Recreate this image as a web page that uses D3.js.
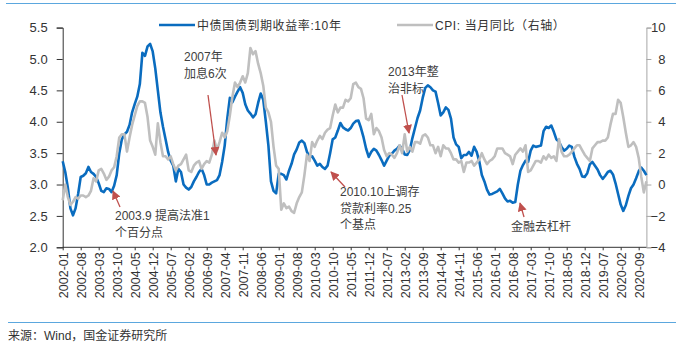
<!DOCTYPE html>
<html>
<head>
<meta charset="utf-8">
<script src="https://cdn.jsdelivr.net/npm/d3@7"></script>
<style>
  body { margin: 0; background: #fff; }
  svg { display: block; font-family: "Liberation Sans", Arial, "Noto Sans CJK SC", sans-serif; }
</style>
</head>
<body>
<svg id="chart" width="682" height="351"></svg>
<script>
// 10年期国债收益率 vs CPI (月度, 2002-01 ~ 2020-12)
var START = '2002-01';
var TICK_EVERY = 7;

// 中债国债到期收益率:10年 (%)
var yield10y = [
  3.37, 3.20, 2.95, 2.62, 2.51, 2.62, 2.85, 3.12, 3.14, 3.18, 3.28, 3.20, // 2002
  3.17, 3.12, 3.02, 2.90, 2.88, 2.94, 2.93, 2.88, 2.98, 3.15, 3.50, 3.72, // 2003
  3.80, 3.84, 3.95, 4.15, 4.28, 4.40, 4.60, 5.10, 5.05, 5.20, 5.24, 5.12, // 2004
  4.85, 4.50, 4.15, 3.92, 3.72, 3.52, 3.38, 3.30, 3.05, 3.25, 3.20, 3.00, // 2005
  2.95, 2.92, 2.96, 3.05, 3.12, 3.20, 3.25, 3.15, 3.00, 3.00, 3.03, 3.05, // 2006
  3.07, 3.15, 3.36, 3.62, 4.05, 4.38, 4.31, 4.40, 4.48, 4.55, 4.46, 4.28, // 2007
  4.18, 4.13, 4.07, 4.12, 4.30, 4.45, 4.35, 4.00, 3.62, 3.05, 2.90, 2.86, // 2008
  3.17, 3.17, 3.15, 3.08, 3.22, 3.33, 3.48, 3.56, 3.67, 3.70, 3.66, 3.52, // 2009
  3.44, 3.45, 3.38, 3.30, 3.33, 3.28, 3.25, 3.30, 3.50, 3.72, 3.75, 3.86, // 2010
  3.98, 3.91, 3.88, 3.86, 3.90, 3.97, 4.01, 4.02, 3.90, 3.75, 3.57, 3.44, // 2011
  3.52, 3.57, 3.54, 3.47, 3.39, 3.30, 3.38, 3.46, 3.49, 3.54, 3.57, 3.62, // 2012
  3.57, 3.48, 3.47, 3.55, 3.74, 3.90, 4.06, 4.18, 4.38, 4.54, 4.58, 4.55, // 2013
  4.50, 4.48, 4.30, 4.10, 4.15, 4.23, 4.19, 4.05, 3.75, 3.64, 3.60, 3.42, // 2014
  3.47, 3.47, 3.52, 3.46, 3.60, 3.52, 3.37, 3.15, 3.05, 2.92, 2.84, 2.85, // 2015
  2.87, 2.89, 2.93, 2.86, 2.78, 2.73, 2.74, 2.71, 2.72, 3.00, 3.22, 3.31, // 2016
  3.38, 3.36, 3.54, 3.62, 3.60, 3.61, 3.62, 3.85, 3.92, 3.90, 3.94, 3.84, // 2017
  3.72, 3.68, 3.60, 3.54, 3.57, 3.62, 3.60, 3.44, 3.33, 3.25, 3.13, 3.12, // 2018
  3.18, 3.32, 3.36, 3.30, 3.24, 3.15, 3.09, 3.14, 3.20, 3.22, 3.16, 3.02, // 2019
  2.85, 2.68, 2.58, 2.67, 2.82, 2.94, 3.00, 3.10, 3.21, 3.27, 3.22, 3.15  // 2020
];

// CPI:当月同比 (%) 右轴
var cpiYoY = [
  -1.0, 0.0, -0.8, -1.3, -1.1, -0.8, -0.9, -0.7, -0.7, -0.8, -0.7, -0.4,
  0.4, 0.2, 0.9, 1.0, 0.7, 0.3, 0.5, 0.9, 1.1, 1.8, 3.0, 3.2,
  3.2, 2.1, 3.0, 3.8, 4.4, 5.0, 5.3, 5.3, 5.2, 4.3, 2.8, 2.4,
  1.9, 3.9, 2.7, 1.8, 1.8, 1.6, 1.8, 1.3, 0.9, 1.2, 1.3, 1.6,
  1.9, 0.9, 0.8, 1.2, 1.4, 1.5, 1.0, 1.3, 1.5, 1.4, 1.9, 2.8,
  2.2, 2.7, 3.3, 3.0, 3.4, 4.4, 5.6, 6.5, 6.2, 6.5, 6.9, 6.5,
  7.1, 8.7, 8.3, 8.5, 7.7, 7.1, 6.3, 4.9, 4.6, 4.0, 2.4, 1.2,
  1.0, -1.6, -1.2, -1.5, -1.4, -1.7, -1.8, -1.2, -0.8, -0.5, 0.6, 1.9,
  1.5, 2.7, 2.4, 2.8, 3.1, 2.9, 3.3, 3.5, 3.6, 4.4, 5.1, 4.6,
  4.9, 4.9, 5.4, 5.3, 5.5, 6.4, 6.5, 6.2, 6.1, 5.5, 4.2, 4.1,
  4.5, 3.2, 3.6, 3.4, 3.0, 2.2, 1.8, 2.0, 1.9, 1.7, 2.0, 2.5,
  2.0, 3.2, 2.1, 2.4, 2.1, 2.7, 2.7, 2.6, 3.1, 3.2, 3.0, 2.5,
  2.5, 2.0, 2.4, 1.8, 2.5, 2.3, 2.3, 2.0, 1.6, 1.6, 1.4, 1.5,
  0.8, 1.4, 1.4, 1.5, 1.2, 1.4, 1.6, 2.0, 1.6, 1.3, 1.5, 1.6,
  1.8, 2.3, 2.3, 2.3, 2.0, 1.9, 1.8, 1.3, 1.9, 2.1, 2.3, 2.1,
  2.5, 0.8, 0.9, 1.2, 1.5, 1.5, 1.4, 1.8, 1.6, 1.9, 1.7, 1.8,
  1.5, 2.9, 2.1, 1.8, 1.8, 1.9, 2.1, 2.3, 2.5, 2.5, 2.2, 1.9,
  1.7, 1.5, 2.3, 2.5, 2.7, 2.7, 2.8, 2.8, 3.0, 3.8, 4.5, 4.5,
  5.4, 5.2, 4.3, 3.3, 2.4, 2.5, 2.7, 2.4, 1.7, 0.5, -0.5, 0.2
];

var leftTicks = [2.0, 2.5, 3.0, 3.5, 4.0, 4.5, 5.0, 5.5];
var rightTicks = [-4, -2, 0, 2, 4, 6, 8, 10];
var seriesNames = ['中债国债到期收益率:10年', 'CPI: 当月同比（右轴）'];

var notes = [
  { lines: ['2003.9 提高法准1', '个百分点'], x: 115, y: 220, from: [120, 207], to: [113, 191] },
  { lines: ['2007年', '加息6次'], x: 184, y: 61, from: [208, 95], to: [216, 155] },
  { lines: ['2010.10上调存', '贷款利率0.25', '个基点'], x: 340, y: 196, from: [345, 187], to: [331, 172] },
  { lines: ['2013年整', '治非标'], x: 388, y: 76, from: [402, 95], to: [409, 133] },
  { lines: ['金融去杠杆'], x: 511, y: 231, from: [524, 217], to: [520, 203] }
];

(function () {
  var BLUE = '#0a6cbf', GREY = '#bfbfbf', RED = '#c0504d', INK = '#333';
  var L = 62.7, R = 646.4, T = 27.6, B = 247.3;

  var parse = d3.timeParse('%Y-%m');
  var months = d3.timeMonth.range(parse(START), d3.timeMonth.offset(parse(START), yield10y.length));
  var fmt = d3.timeFormat('%Y-%m');
  var cats = months.map(fmt);

  var svg = d3.select('#chart');
  var x = d3.scalePoint().domain(cats).range([L, R]);
  var yL = d3.scaleLinear().domain([2, 5.5]).range([B, T]);
  var yR = d3.scaleLinear().domain([-4, 10]).range([B, T]);

  // 上下装饰线
  svg.append('line').attr('x1', 6).attr('x2', 676).attr('y1', 3.5).attr('y2', 3.5)
    .attr('stroke', '#5ba7de').attr('stroke-width', 1.2);
  svg.append('line').attr('x1', 8).attr('x2', 676).attr('y1', 322.5).attr('y2', 322.5)
    .attr('stroke', '#5ba7de').attr('stroke-width', 1.2);

  // 轴
  var gl = svg.append('g').attr('transform', 'translate(' + L + ',0)')
    .call(d3.axisLeft(yL).tickValues(leftTicks).tickFormat(d3.format('.1f')).tickSize(6).tickPadding(9));
  gl.selectAll('path, line').attr('stroke', INK);
  gl.selectAll('text').attr('fill', INK).style('font-size', '13px');

  var gr = svg.append('g').attr('transform', 'translate(' + R + ',0)')
    .call(d3.axisRight(yR).tickValues(rightTicks).tickSize(5).tickPadding(4));
  gr.selectAll('path, line').attr('stroke', '#a6a6a6');
  gr.selectAll('text').attr('fill', INK).style('font-size', '13px')
    .attr('text-anchor', 'end').attr('x', 19);

  var gx = svg.append('g').attr('transform', 'translate(0,' + B + ')')
    .call(d3.axisBottom(x).tickValues(cats.filter(function (d, i) { return i % TICK_EVERY === 0; })).tickSize(3).tickSizeOuter(0));
  gx.select('path').attr('stroke', INK).attr('d', 'M' + L + ',0H' + R);
  gx.selectAll('line').attr('stroke', INK);
  gx.selectAll('text').attr('fill', INK).style('font-size', '12.5px')
    .attr('transform', 'rotate(-90)').attr('text-anchor', 'end')
    .attr('x', -5).attr('y', 0).attr('dy', '0.35em');

  // 折线
  var lineL = d3.line().x(function (d, i) { return x(cats[i]); }).y(function (d) { return yL(d); });
  var lineR = d3.line().x(function (d, i) { return x(cats[i]); }).y(function (d) { return yR(d); });
  svg.append('path').datum(yield10y).attr('d', lineL).attr('fill', 'none')
    .attr('stroke', BLUE).attr('stroke-width', 2.6).attr('stroke-linejoin', 'round');
  svg.append('path').datum(cpiYoY).attr('d', lineR).attr('fill', 'none')
    .attr('stroke', GREY).attr('stroke-width', 2.6).attr('stroke-linejoin', 'round');

  // 图例
  var legend = [{ c: BLUE, x: 159 }, { c: GREY, x: 397 }];
  legend.forEach(function (d, i) {
    svg.append('line').attr('x1', d.x).attr('x2', d.x + 36).attr('y1', 25).attr('y2', 25)
      .attr('stroke', d.c).attr('stroke-width', 2.6);
    svg.append('text').attr('x', d.x + 38).attr('y', 29.5).attr('fill', INK)
      .style('font-size', '12px').style('letter-spacing', '0.6px').text(seriesNames[i]);
  });

  // 标注
  var defs = svg.append('defs');
  defs.append('marker').attr('id', 'ah').attr('viewBox', '0 0 10 10').attr('refX', 9).attr('refY', 5)
    .attr('markerWidth', 9).attr('markerHeight', 9).attr('markerUnits', 'userSpaceOnUse').attr('orient', 'auto')
    .append('path').attr('d', 'M0,0L10,5L0,10Z').attr('fill', RED);

  notes.forEach(function (n) {
    svg.append('line').attr('x1', n.from[0]).attr('y1', n.from[1]).attr('x2', n.to[0]).attr('y2', n.to[1])
      .attr('stroke', RED).attr('stroke-width', 1.3).attr('marker-end', 'url(#ah)');
    var t = svg.append('text').attr('fill', '#404040').style('font-size', '12px');
    n.lines.forEach(function (s, k) {
      t.append('tspan').attr('x', n.x).attr('y', n.y + k * 16.5).text(s);
    });
  });

  svg.append('text').attr('x', 8).attr('y', 339.5).attr('fill', INK).style('font-size', '12px')
    .text('来源：Wind，国金证券研究所');
})();
</script>
</body>
</html>
